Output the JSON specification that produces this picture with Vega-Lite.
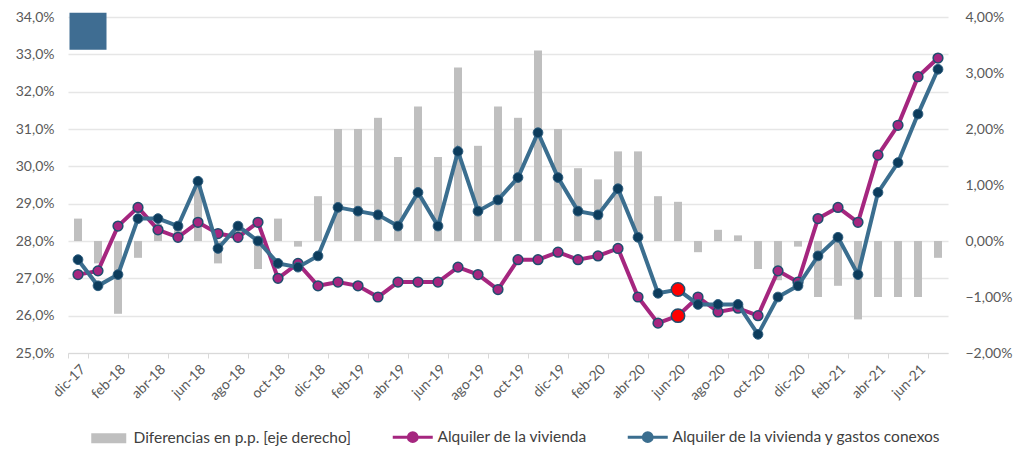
{
  "$schema": "https://vega.github.io/schema/vega-lite/v6.json",
  "width": 880,
  "height": 336,
  "autosize": {"type": "none"},
  "padding": {"left": 68, "top": 17, "right": 66, "bottom": 97},
  "background": "white",
  "config": {"font": "Lato", "view": {"stroke": null}},
  "data": {"values": [
    {"mes": "dic-17", "vivienda": 27.1, "conexos": 27.5, "diferencia": 0.4},
    {"mes": "ene-18", "vivienda": 27.2, "conexos": 26.8, "diferencia": -0.4},
    {"mes": "feb-18", "vivienda": 28.4, "conexos": 27.1, "diferencia": -1.3},
    {"mes": "mar-18", "vivienda": 28.9, "conexos": 28.6, "diferencia": -0.3},
    {"mes": "abr-18", "vivienda": 28.3, "conexos": 28.6, "diferencia": 0.3},
    {"mes": "may-18", "vivienda": 28.1, "conexos": 28.4, "diferencia": 0.3},
    {"mes": "jun-18", "vivienda": 28.5, "conexos": 29.6, "diferencia": 1.1},
    {"mes": "jul-18", "vivienda": 28.2, "conexos": 27.8, "diferencia": -0.4},
    {"mes": "ago-18", "vivienda": 28.1, "conexos": 28.4, "diferencia": 0.3},
    {"mes": "sep-18", "vivienda": 28.5, "conexos": 28.0, "diferencia": -0.5},
    {"mes": "oct-18", "vivienda": 27.0, "conexos": 27.4, "diferencia": 0.4},
    {"mes": "nov-18", "vivienda": 27.4, "conexos": 27.3, "diferencia": -0.1},
    {"mes": "dic-18", "vivienda": 26.8, "conexos": 27.6, "diferencia": 0.8},
    {"mes": "ene-19", "vivienda": 26.9, "conexos": 28.9, "diferencia": 2.0},
    {"mes": "feb-19", "vivienda": 26.8, "conexos": 28.8, "diferencia": 2.0},
    {"mes": "mar-19", "vivienda": 26.5, "conexos": 28.7, "diferencia": 2.2},
    {"mes": "abr-19", "vivienda": 26.9, "conexos": 28.4, "diferencia": 1.5},
    {"mes": "may-19", "vivienda": 26.9, "conexos": 29.3, "diferencia": 2.4},
    {"mes": "jun-19", "vivienda": 26.9, "conexos": 28.4, "diferencia": 1.5},
    {"mes": "jul-19", "vivienda": 27.3, "conexos": 30.4, "diferencia": 3.1},
    {"mes": "ago-19", "vivienda": 27.1, "conexos": 28.8, "diferencia": 1.7},
    {"mes": "sep-19", "vivienda": 26.7, "conexos": 29.1, "diferencia": 2.4},
    {"mes": "oct-19", "vivienda": 27.5, "conexos": 29.7, "diferencia": 2.2},
    {"mes": "nov-19", "vivienda": 27.5, "conexos": 30.9, "diferencia": 3.4},
    {"mes": "dic-19", "vivienda": 27.7, "conexos": 29.7, "diferencia": 2.0},
    {"mes": "ene-20", "vivienda": 27.5, "conexos": 28.8, "diferencia": 1.3},
    {"mes": "feb-20", "vivienda": 27.6, "conexos": 28.7, "diferencia": 1.1},
    {"mes": "mar-20", "vivienda": 27.8, "conexos": 29.4, "diferencia": 1.6},
    {"mes": "abr-20", "vivienda": 26.5, "conexos": 28.1, "diferencia": 1.6},
    {"mes": "may-20", "vivienda": 25.8, "conexos": 26.6, "diferencia": 0.8},
    {"mes": "jun-20", "vivienda": 26.0, "conexos": 26.7, "diferencia": 0.7},
    {"mes": "jul-20", "vivienda": 26.5, "conexos": 26.3, "diferencia": -0.2},
    {"mes": "ago-20", "vivienda": 26.1, "conexos": 26.3, "diferencia": 0.2},
    {"mes": "sep-20", "vivienda": 26.2, "conexos": 26.3, "diferencia": 0.1},
    {"mes": "oct-20", "vivienda": 26.0, "conexos": 25.5, "diferencia": -0.5},
    {"mes": "nov-20", "vivienda": 27.2, "conexos": 26.5, "diferencia": -0.7},
    {"mes": "dic-20", "vivienda": 26.9, "conexos": 26.8, "diferencia": -0.1},
    {"mes": "ene-21", "vivienda": 28.6, "conexos": 27.6, "diferencia": -1.0},
    {"mes": "feb-21", "vivienda": 28.9, "conexos": 28.1, "diferencia": -0.8},
    {"mes": "mar-21", "vivienda": 28.5, "conexos": 27.1, "diferencia": -1.4},
    {"mes": "abr-21", "vivienda": 30.3, "conexos": 29.3, "diferencia": -1.0},
    {"mes": "may-21", "vivienda": 31.1, "conexos": 30.1, "diferencia": -1.0},
    {"mes": "jun-21", "vivienda": 32.4, "conexos": 31.4, "diferencia": -1.0},
    {"mes": "jul-21", "vivienda": 32.9, "conexos": 32.6, "diferencia": -0.3}
  ]},
  "encoding": {
    "x": {
      "field": "mes", "type": "nominal", "sort": null, "title": null,
      "scale": {"type": "band", "paddingInner": 0, "paddingOuter": 0},
      "axis": {
        "values": ["dic-17","feb-18","abr-18","jun-18","ago-18","oct-18","dic-18","feb-19","abr-19","jun-19","ago-19","oct-19","dic-19","feb-20","abr-20","jun-20","ago-20","oct-20","dic-20","feb-21","abr-21","jun-21"],
        "labelAngle": -45, "tickBand": "extent", "grid": false,
        "domainColor": "#D9D9D9", "tickColor": "#D9D9D9", "tickSize": 5,
        "labelColor": "#595959", "labelFontSize": 14, "labelPadding": 4
      }
    }
  },
  "layer": [
    {
      "mark": {"type": "bar", "color": "#BFBFBF", "width": {"band": 0.4}},
      "encoding": {
        "y": {
          "field": "diferencia", "type": "quantitative", "title": null,
          "scale": {"domain": [-2, 4], "nice": false, "zero": false},
          "axis": {
            "orient": "right", "values": [-2, -1, 0, 1, 2, 3, 4], "grid": false,
            "domain": false, "ticks": false, "labelPadding": 17,
            "labelColor": "#595959", "labelFontSize": 14,
            "labelExpr": "replace(format(datum.value, '.2f'), '.', ',') + '%'"
          }
        },
        "color": {
          "datum": "Diferencias en p.p. [eje derecho]",
          "scale": {
            "domain": ["Diferencias en p.p. [eje derecho]", "Alquiler de la vivienda", "Alquiler de la vivienda y gastos conexos"],
            "range": ["#BFBFBF", "#A5267F", "#3B6E8F"]
          },
          "legend": {
            "orient": "none", "legendX": 33, "legendY": 412, "direction": "horizontal", "title": null,
            "columnPadding": 34, "labelFontSize": 15.5, "labelColor": "#404040",
            "labelOffset": 17, "labelLimit": 0, "symbolSize": 1600,
            "encode": {"symbols": {"update": {
              "shape": {"signal": "datum.value === 'Diferencias en p.p. [eje derecho]' ? 'M-0.875,-0.25H0.875V0.25H-0.875Z' : 'M-1,0H-0.22M0.22,0H1M-0.22,0A0.22,0.22 0 1,1 0.22,0A0.22,0.22 0 1,1 -0.22,0Z'"},
              "fill": {"scale": "color", "field": "value"},
              "stroke": {"scale": "color", "field": "value"},
              "strokeWidth": {"signal": "datum.value === 'Diferencias en p.p. [eje derecho]' ? 0 : 3"},
              "opacity": {"value": 1},
              "fillOpacity": {"value": 1},
              "strokeOpacity": {"value": 1}
            }}}
          }
        }
      }
    },
    {
      "encoding": {
        "y": {
          "type": "quantitative", "title": null,
          "scale": {"domain": [25, 34], "nice": false, "zero": false},
          "axis": {
            "values": [25, 26, 27, 28, 29, 30, 31, 32, 33, 34],
            "grid": true, "gridColor": "#E6E6E6", "gridWidth": 1.5,
            "domain": false, "ticks": false, "labelPadding": 14,
            "labelColor": "#595959", "labelFontSize": 14,
            "labelExpr": "replace(format(datum.value, '.1f'), '.', ',') + '%'"
          }
        }
      },
      "layer": [
        {
          "mark": {"type": "line", "strokeWidth": 4},
          "encoding": {"y": {"field": "vivienda", "type": "quantitative"}, "color": {"datum": "Alquiler de la vivienda"}}
        },
        {
          "mark": {"type": "point", "filled": true, "size": 95, "fill": "#A5267F", "stroke": "#1F4E6E", "strokeWidth": 1.5, "opacity": 1},
          "encoding": {"y": {"field": "vivienda", "type": "quantitative"}}
        },
        {
          "mark": {"type": "line", "strokeWidth": 4},
          "encoding": {"y": {"field": "conexos", "type": "quantitative"}, "color": {"datum": "Alquiler de la vivienda y gastos conexos"}}
        },
        {
          "mark": {"type": "point", "filled": true, "size": 95, "fill": "#0D3C5C", "stroke": "#2E5F80", "strokeWidth": 1, "opacity": 1},
          "encoding": {"y": {"field": "conexos", "type": "quantitative"}}
        },
        {
          "transform": [{"filter": "datum.mes === 'jun-20'"}],
          "mark": {"type": "point", "filled": true, "size": 180, "fill": "#FF0000", "stroke": "#1F4E6E", "strokeWidth": 1.5, "opacity": 1},
          "encoding": {"y": {"field": "vivienda", "type": "quantitative"}}
        },
        {
          "transform": [{"filter": "datum.mes === 'jun-20'"}],
          "mark": {"type": "point", "filled": true, "size": 180, "fill": "#FF0000", "stroke": "#1F4E6E", "strokeWidth": 1.5, "opacity": 1},
          "encoding": {"y": {"field": "conexos", "type": "quantitative"}}
        },
        {
          "data": {"values": [{"logo": "logo"}]},
          "mark": {"type": "point", "shape": "square", "filled": true, "size": 1369, "fill": "#3F6D92", "opacity": 1},
          "encoding": {"x": {"datum": "dic-17", "bandPosition": 1}, "y": {"datum": 33.62}}
        }
      ]
    }
  ],
  "resolve": {"scale": {"y": "independent"}}
}
